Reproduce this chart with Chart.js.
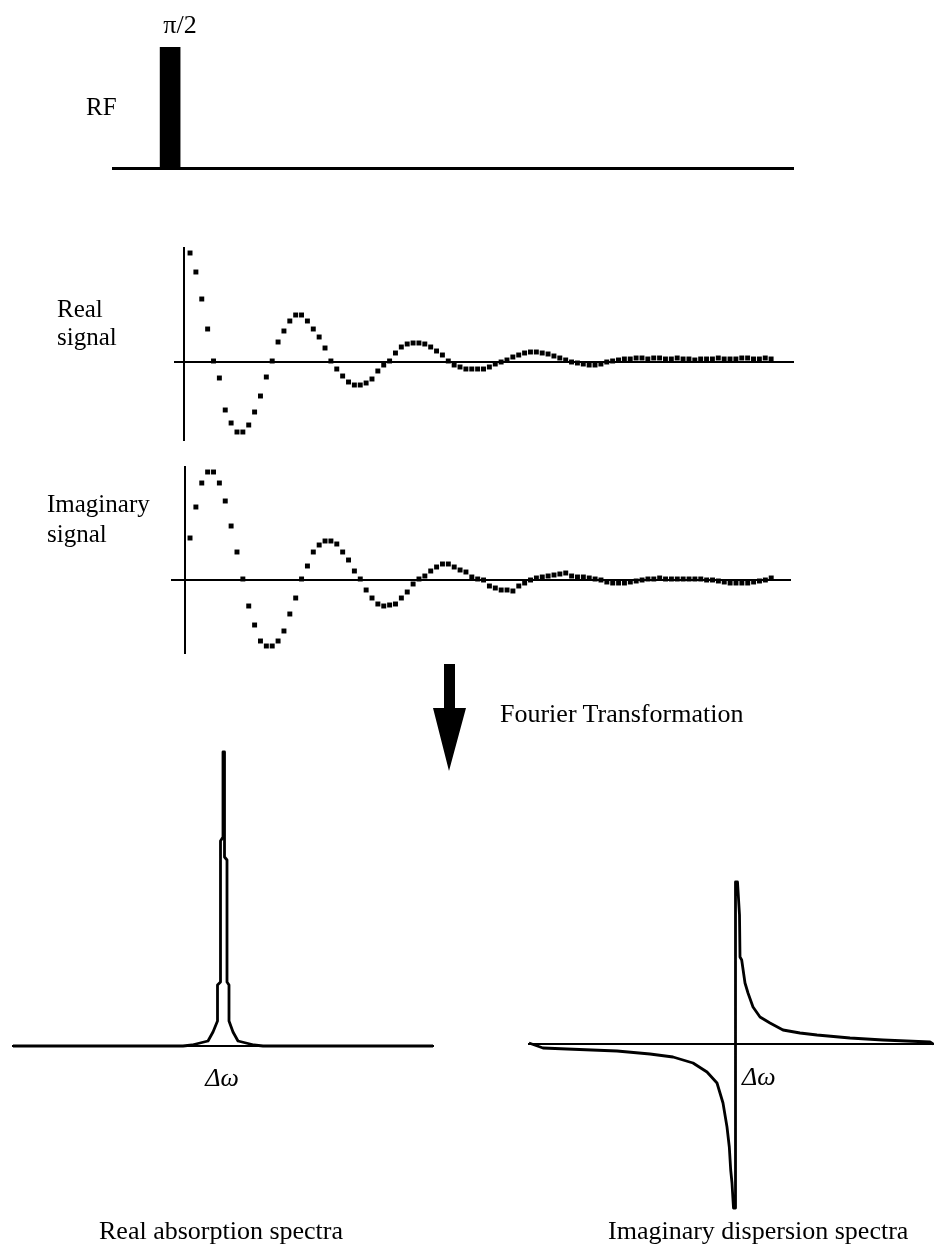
<!DOCTYPE html>
<html>
<head>
<meta charset="utf-8">
<title>FID and Fourier spectra</title>
<script src="https://cdn.jsdelivr.net/npm/chart.js@4.4.0/dist/chart.umd.min.js"></script>
<style>
  body { margin: 0; background: #fff; }
  #page { position: relative; width: 935px; height: 1249px; overflow: hidden;
          font-family: "Liberation Serif", "Times New Roman", serif; color: #000; }
  #page canvas { position: absolute; }
  .lbl { position: absolute; white-space: nowrap; line-height: 1; }
</style>
</head>
<body>
<div id="page">
  <canvas id="rf"></canvas>
  <canvas id="real"></canvas>
  <canvas id="imag"></canvas>
  <canvas id="absorb"></canvas>
  <canvas id="disperse"></canvas>
  <svg id="arrow" width="935" height="1249" style="position:absolute;left:0;top:0">
    <polygon points="444,664 455,664 455,708 466,708 449,771 433,708 444,708" fill="#000"/>
  </svg>
</div>
<script>
// RF pulse sequence: one pi/2 pulse on a time line
const rfTime = [8.4];
const rfAmp = [1];
const rfEnd = 100;

// acquired FID, one value per sample
const realSignal = [
  109, 90, 63, 33, 1, -16, -48, -61, -70, -70,
  -63, -50, -34, -15, 1, 20, 31, 41, 47, 47,
  41, 33, 25, 14, 1, -7, -14, -20, -23, -23,
  -21, -17, -9, -3, 1, 9, 15, 18, 19, 19,
  18, 15, 11, 7, 1, -3, -5, -7, -7, -7,
  -7, -5, -2, 0, 2, 5, 7, 9, 10, 10,
  9, 8, 6, 4, 2, 0, -1, -2, -3, -3,
  -2, 0, 1, 2, 3, 3, 4, 4, 3, 4,
  4, 3, 3, 4, 3, 3, 2, 3, 3, 3,
  4, 3, 3, 3, 4, 4, 3, 3, 4, 3
];
const imagSignal = [
  42, 73, 97, 108, 108, 97, 79, 54, 28, 1,
  -26, -45, -61, -66, -66, -61, -51, -34, -18, 1,
  14, 28, 35, 39, 39, 36, 28, 20, 9, 1,
  -10, -18, -24, -26, -25, -24, -18, -12, -4, 1,
  4, 9, 13, 16, 16, 13, 10, 8, 3, 1,
  0, -6, -8, -10, -10, -11, -6, -3, 0, 2,
  3, 4, 5, 6, 7, 4, 3, 3, 2, 1,
  0, -2, -3, -3, -3, -2, -1, 0, 1, 1,
  2, 1, 1, 1, 1, 1, 1, 1, 0, 0,
  -1, -2, -3, -3, -3, -3, -2, -1, 0, 2
];

// spectra after the transform, offset from resonance vs intensity
const absShift  = [-210, -40, -31, -23, -15, -10, -5.5, -5.5, -2.5, -2.5, 0, 0, 1.5, 1.5, 4, 4, 6, 6, 10, 15, 23, 31, 40, 210];
const absHeight = [0, 0, 1, 3, 5, 14, 25, 61, 64, 205, 209, 294, 294, 189, 186, 64, 61, 25, 14, 5, 3, 1, 0, 0];

const dispShift = [-206, -192, -168, -118, -85, -62, -42, -28, -18, -12,
  -8, -5.7, -4.3, -3, -2, -1.5, 0.5, 0.5, 2.5, 4.5,
  5, 6.7, 10, 13, 18, 25, 35, 48, 65, 82,
  115, 148, 195, 198];
const dispValue = [1, -4, -5, -7, -10, -13, -19, -28, -39, -59,
  -83, -103, -126, -139, -156, -164, -164, 162, 162, 129,
  87, 84, 61, 51, 37, 27, 21, 14, 11, 9,
  6, 4, 2, 0];

const ink = '#000';

function pairs(xs, ys) {
  return xs.map((x, i) => ({ x: x, y: ys[i] }));
}
function samples(vals) {
  return vals.map((v, i) => ({ x: i, y: v }));
}

function axis(min, max, position, border) {
  return {
    type: 'linear', min: min, max: max, position: position, offset: false,
    ticks: { display: false },
    grid: { display: false, drawTicks: false },
    border: { display: border > 0, color: ink, width: border || 1 }
  };
}

// area = plot rectangle in page pixels
function panel(id, area, config) {
  const m = 12;
  const c = document.getElementById(id);
  c.width = area.w + 2 * m;
  c.height = area.h + 2 * m;
  c.style.left = (area.x - m) + 'px';
  c.style.top = (area.y - m) + 'px';
  config.options = Object.assign({
    responsive: false,
    animation: false,
    events: [],
    layout: { padding: m },
    plugins: { legend: { display: false }, tooltip: { enabled: false } }
  }, config.options);
  return new Chart(c, config);
}

panel('rf', { x: 113, y: 47, w: 680, h: 121 }, {
  type: 'bar',
  data: {
    datasets: [{
      data: pairs(rfTime, rfAmp),
      backgroundColor: ink,
      borderWidth: 0,
      barThickness: 20
    }]
  },
  options: {
    scales: {
      x: axis(0, rfEnd, { y: 0 }, 3),
      y: axis(0, 1, 'left', 0)
    }
  }
});

function fidPanel(id, area, vals, xmin, xmax, ymin, ymax, yAxisAt) {
  return panel(id, area, {
    type: 'scatter',
    data: {
      datasets: [{
        data: samples(vals),
        pointStyle: 'rect',
        pointRadius: 3.5,
        pointBackgroundColor: ink,
        pointBorderWidth: 0,
        showLine: false,
        clip: false
      }]
    },
    options: {
      scales: {
        x: axis(xmin, xmax, { y: 0 }, 2),
        y: axis(ymin, ymax, { x: yAxisAt }, 2)
      }
    }
  });
}

fidPanel('real', { x: 175, y: 248, w: 618, h: 192 }, realSignal, -2.56, 102.73, -78, 114, -1.0);
fidPanel('imag', { x: 172, y: 467, w: 618, h: 186 }, imagSignal, -3.07, 102.2, -73, 113, -0.85);

function spectrum(id, area, xs, ys, xmin, xmax, ymin, ymax) {
  return panel(id, area, {
    type: 'scatter',
    data: {
      datasets: [{
        data: pairs(xs, ys),
        showLine: true,
        borderColor: ink,
        borderWidth: 2.8,
        borderJoinStyle: 'round',
        pointRadius: 0,
        tension: 0,
        clip: false
      }]
    },
    options: {
      scales: {
        x: axis(xmin, xmax, { y: 0 }, 2),
        y: axis(ymin, ymax, 'left', 0)
      }
    }
  });
}

spectrum('absorb', { x: 13, y: 752, w: 420, h: 294 }, absShift, absHeight, -210, 210, 0, 294);
spectrum('disperse', { x: 529, y: 882, w: 404, h: 326 }, dispShift, dispValue, -206, 198, -164, 162);

// text labels placed by their baseline
const page = document.getElementById('page');
function label(html, x, baseline, size, align, italic) {
  const d = document.createElement('div');
  d.className = 'lbl';
  d.innerHTML = html;
  d.style.fontSize = size + 'px';
  d.style.top = (baseline - 0.8375 * size) + 'px';
  if (italic) d.style.fontStyle = 'italic';
  if (align === 'center') {
    d.style.left = (x - 200) + 'px';
    d.style.width = '400px';
    d.style.textAlign = 'center';
  } else {
    d.style.left = x + 'px';
  }
  page.appendChild(d);
}

label('&pi;/2', 180, 34, 26, 'center');
label('RF', 86, 115, 25);
label('Real', 57, 317, 25);
label('signal', 57, 345, 25);
label('Imaginary', 47, 512, 25);
label('signal', 47, 542, 25);
label('Fourier Transformation', 500, 723, 26);
label('&Delta;&omega;', 222, 1087, 26, 'center', true);
label('&Delta;&omega;', 742, 1086, 26, 'left', true);
label('Real absorption spectra', 99, 1240, 26);
label('Imaginary dispersion spectra', 608, 1240, 26);
</script>
</body>
</html>
